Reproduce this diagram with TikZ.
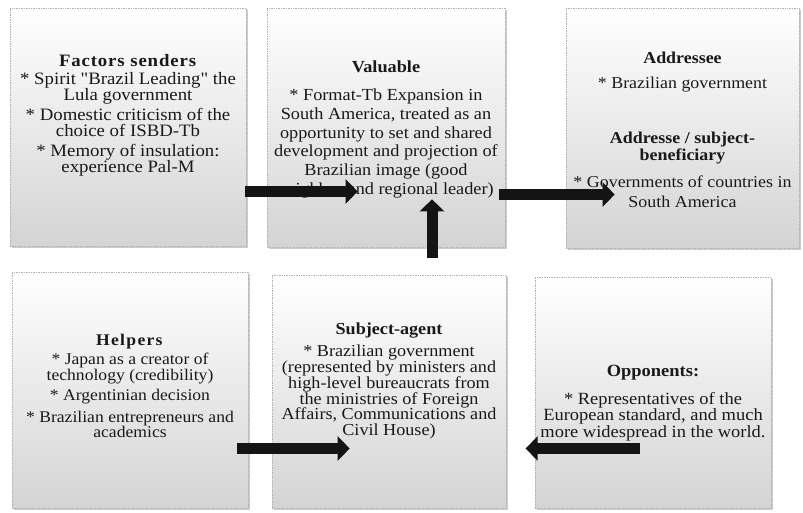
\documentclass[tikz,border=0pt]{standalone}
\usepackage{fontspec}
\setmainfont{Liberation Serif}[FakeStretch=1.08,Ligatures=TeXOff]
\usetikzlibrary{arrows.meta,shadows,calc}
\begin{document}
\begin{tikzpicture}[x=1pt,y=-1pt,
  box/.style={draw=gray!60, densely dotted, line width=0.7pt, top color=white, bottom color=gray!34,
    drop shadow={shadow xshift=1.8pt, shadow yshift=-1.8pt, opacity=0.5, fill=gray!80}, inner sep=0pt},
  txt/.style={align=center, inner sep=0pt, anchor=north, text=black!90},
  blockarrow/.style={draw=black!92, line width=11pt, -{Triangle[length=12pt,width=24pt]}}]
\fill[white] (0,0) rectangle (803,513);
\useasboundingbox (0,0) rectangle (803,513);
% boxes
\node[box, minimum width=236pt, minimum height=238pt] (b1) at (128,127) {};
\node[box, minimum width=238pt, minimum height=239pt] (b2) at (386,127.5) {};
\node[box, minimum width=233pt, minimum height=240pt] (b3) at (682.5,128) {};
\node[box, minimum width=236pt, minimum height=236pt] (b4) at (130,390) {};
\node[box, minimum width=234pt, minimum height=233pt] (b5) at (389,391.5) {};
\node[box, minimum width=236pt, minimum height=231pt] (b6) at (653,392.5) {};
% texts
\node[txt, font=\fontsize{17.4}{16}\selectfont] (t1) at (128,54) {\textbf{\addfontfeature{LetterSpace=5}Factors senders}\\[2pt]
* Spirit "Brazil Leading" the\\
Lula government\\[3pt]
* Domestic criticism of the\\
choice of ISBD-Tb\\[4pt]
* Memory of insulation:\\
experience Pal-M};
\node[txt, font=\fontsize{16.9}{18.7}\selectfont] (t2) at (386,61) {\textbf{Valuable}\\[9pt]
* Format-Tb Expansion in\\
South America, treated as an\\
opportunity to set and shared\\
development and projection of\\
Brazilian image (good\\
neighbor and regional leader)};
\node[txt, font=\fontsize{16.6}{18}\selectfont] (t3) at (682.5,52) {\textbf{Addressee}\\[7pt]
* Brazilian government\\[37pt]
\textbf{Addresse / subject-}\\[-1pt]
\textbf{beneficiary}\\[9pt]
* Governments of countries in\\[2pt]
South America};
\node[txt, font=\fontsize{16.3}{16}\selectfont] (t4) at (130,334) {\textbf{\addfontfeature{LetterSpace=8}Helpers}\\[3pt]
* Japan as a creator of\\
technology (credibility)\\[4pt]
* Argentinian decision\\[6pt]
* Brazilian entrepreneurs and\\[-1pt]
academics};
\node[txt, font=\fontsize{16.8}{15.8}\selectfont] (t5) at (389,323) {\textbf{Subject-agent}\\[6pt]
* Brazilian government\\
(represented by ministers and\\
high-level bureaucrats from\\
the ministries of Foreign\\
Affairs, Communications and\\
Civil House)};
\node[txt, font=\fontsize{17.1}{14.3}\selectfont] (t6) at (653,365) {\textbf{Opponents:}\\[11pt]
* Representatives of the\\
European standard, and much\\
more widespread in the world.};
% arrows
\draw[blockarrow] ($(b1.east)+(-1,64.5)$) -- ($(b2.west)+(91,64)$);
\draw[blockarrow] ($(b2.east)+(-6,67)$) -- ($(b3.west)+(49,66.5)$);
\draw[blockarrow] ($(b5.north)+(43,-17)$) -- ($(b2.south)+(46,-48)$);
\draw[blockarrow] ($(b4.east)+(-11,58.5)$) -- ($(b5.west)+(78,57)$);
\draw[blockarrow] ($(b6.west)+(105,56)$) -- ($(b6.west)+(-9,56)$);
\end{tikzpicture}
\end{document}
